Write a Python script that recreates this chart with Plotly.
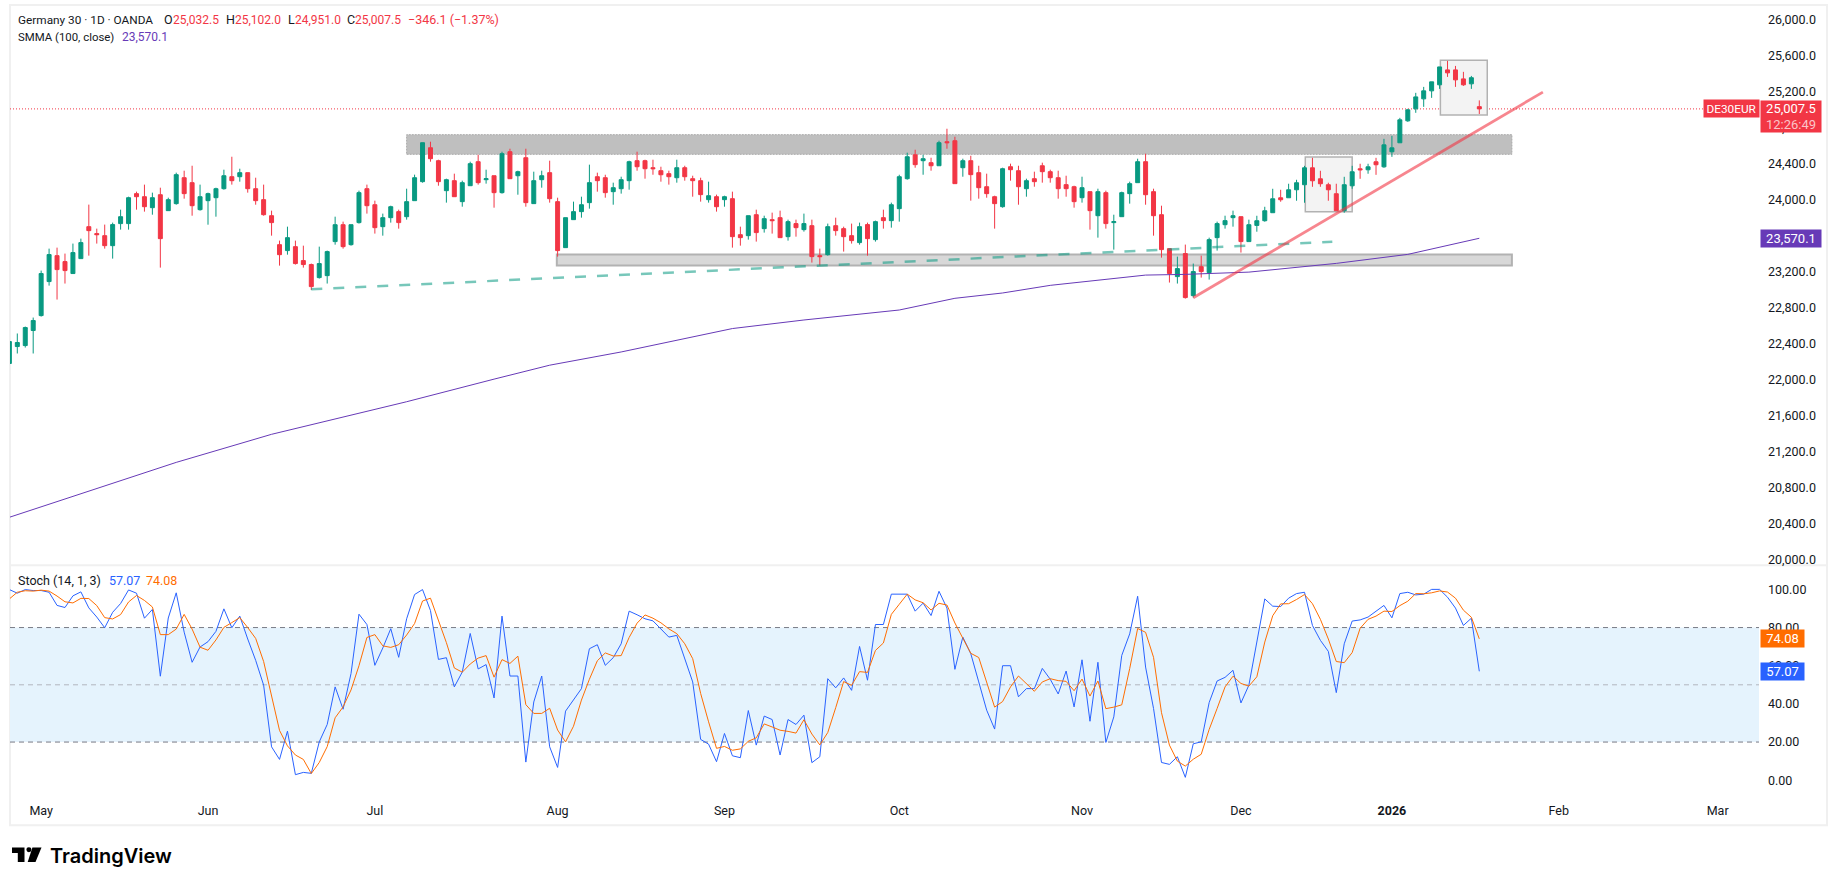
import plotly.graph_objects as go

W, H = 1835, 887

# candles, one per trading day
opens = [
    22179, 22367, 22378, 22545, 22711, 23089, 23377, 23311, 23178, 23344,
    23699, 23622, 23599, 23488, 23733, 23733, 24066, 24032, 23910, 24054,
    23877, 23955, 24243, 24188, 23888, 23988, 24021, 24121, 24254, 24254,
    24299, 24121, 23999, 23821, 23499, 23433, 23477, 23322, 23278, 23133,
    23155, 23533, 23721, 23499, 23744, 24121, 23943, 23699, 23799, 23866,
    23810, 23988, 24199, 24576, 24432, 24099, 24210, 23977, 24154, 24421,
    24221, 24265, 24077, 24532, 24265, 24465, 23955, 24221, 24299, 23977,
    23466, 23777, 23866, 23966, 24254, 24243, 24088, 24121, 24210, 24432,
    24432, 24354, 24321, 24288, 24243, 24354, 24232, 24210, 23999, 24032,
    23999, 24010, 23610, 23599, 23832, 23677, 23777, 23799, 23588, 23733,
    23666, 23710, 23377, 23388, 23710, 23677, 23599, 23522, 23722, 23555,
    23799, 23766, 23899, 24232, 24498, 24432, 24410, 24376, 24643, 24654,
    24354, 24432, 24299, 24143, 24032, 23921, 24365, 24321, 24121, 24232,
    24376, 24310, 24243, 24166, 24143, 24021, 24088, 23821, 24077, 23744,
    23810, 24066, 24188, 24421, 24088, 23832, 23455, 23144, 23400, 22933,
    23255, 23189, 23577, 23721, 23799, 23810, 23533, 23713, 23765, 23854,
    24020, 24020, 24109, 24165, 24353, 24231, 24165, 24065, 23876, 24153,
    24342, 24331, 24420, 24364, 24531, 24631, 24875, 25008, 25119, 25208,
    25275, 25441, 25441, 25341, 25286, 25032.5,
]
highs = [
    22423, 22512, 22589, 22689, 23211, 23455, 23466, 23400, 23511, 23566,
    23944, 23677, 23722, 23744, 23888, 24032, 24088, 24166, 24077, 24132,
    24021, 24299, 24321, 24376, 24166, 24077, 24132, 24332, 24476, 24343,
    24299, 24243, 24166, 23877, 23544, 23699, 23544, 23488, 23289, 23477,
    23433, 23810, 23755, 23721, 24099, 24166, 23988, 23844, 23932, 23888,
    24121, 24277, 24632, 24643, 24443, 24232, 24288, 24210, 24421, 24498,
    24332, 24265, 24532, 24565, 24321, 24565, 24310, 24321, 24432, 24021,
    23799, 23977, 24032, 24388, 24299, 24276, 24188, 24254, 24432, 24532,
    24443, 24443, 24365, 24321, 24443, 24376, 24265, 24243, 24199, 24055,
    24043, 24088, 23699, 23821, 23888, 23821, 23855, 23877, 23777, 23777,
    23844, 23777, 23455, 23733, 23799, 23699, 23733, 23744, 23744, 23766,
    23888, 23966, 24276, 24521, 24554, 24498, 24465, 24654, 24787, 24698,
    24454, 24487, 24376, 24288, 24043, 24354, 24399, 24376, 24232, 24310,
    24410, 24332, 24321, 24265, 24154, 24254, 24088, 24121, 24099, 23832,
    24088, 24199, 24454, 24510, 24121, 23932, 23455, 23366, 23500, 23289,
    23377, 23577, 23755, 23821, 23877, 23810, 23777, 23820, 23920, 24120,
    24109, 24176, 24220, 24375, 24464, 24320, 24187, 24176, 24253, 24375,
    24398, 24398, 24464, 24675, 24708, 24908, 25008, 25186, 25252, 25308,
    25474, 25541, 25485, 25419, 25374, 25102,
]
lows = [
    22179, 22290, 22356, 22290, 22700, 23044, 22889, 23067, 23178, 23344,
    23377, 23511, 23455, 23344, 23666, 23666, 23888, 23866, 23832, 23244,
    23877, 23943, 24010, 23821, 23877, 23721, 23810, 24110, 24166, 24199,
    24077, 23943, 23821, 23599, 23266, 23388, 23278, 23244, 22996, 23122,
    23067, 23499, 23455, 23488, 23733, 23844, 23622, 23599, 23744, 23677,
    23777, 23988, 24188, 24421, 24154, 23966, 24032, 23921, 24154, 24166,
    24177, 23910, 24066, 24232, 24054, 23921, 23955, 24132, 23966, 23366,
    23466, 23777, 23799, 23899, 24088, 24021, 23943, 24066, 24110, 24321,
    24232, 24276, 24199, 24166, 24188, 24210, 24032, 23977, 23966, 23866,
    23921, 23466, 23488, 23555, 23533, 23633, 23622, 23577, 23544, 23588,
    23644, 23300, 23266, 23377, 23599, 23422, 23511, 23499, 23377, 23533,
    23677, 23688, 23755, 24221, 24354, 24276, 24321, 24376, 24565, 24177,
    24254, 23988, 24010, 24021, 23677, 23910, 24210, 23943, 24032, 24143,
    24188, 24188, 24010, 24032, 23910, 23966, 23666, 23577, 23677, 23444,
    23810, 23955, 24188, 23943, 23599, 23355, 23078, 23067, 22900, 22911,
    23133, 23111, 23433, 23677, 23699, 23411, 23533, 23643, 23754, 23854,
    23976, 24020, 23987, 23965, 24142, 24142, 23987, 23876, 23854, 24120,
    24231, 24287, 24275, 24353, 24475, 24631, 24864, 24964, 25030, 25130,
    25230, 25363, 25252, 25263, 25230, 24951,
]
closes = [
    22423, 22412, 22578, 22656, 23178, 23389, 23222, 23211, 23411, 23522,
    23655, 23610, 23488, 23722, 23810, 24021, 24032, 23921, 24021, 23566,
    23999, 24277, 24066, 23932, 24032, 24066, 24121, 24265, 24210, 24299,
    24121, 23988, 23832, 23744, 23388, 23577, 23289, 23278, 23033, 23289,
    23422, 23721, 23477, 23721, 24077, 23932, 23688, 23799, 23921, 23744,
    23977, 24243, 24632, 24454, 24199, 24221, 24032, 24188, 24399, 24188,
    24232, 24077, 24510, 24232, 24310, 23966, 24210, 24265, 24010, 23433,
    23799, 23866, 23943, 24188, 24210, 24077, 24132, 24221, 24421, 24365,
    24343, 24343, 24276, 24254, 24354, 24254, 24210, 24055, 24043, 23921,
    24032, 23588, 23577, 23821, 23633, 23788, 23766, 23577, 23755, 23688,
    23733, 23366, 23366, 23699, 23655, 23588, 23544, 23699, 23566, 23755,
    23766, 23943, 24254, 24476, 24388, 24454, 24376, 24632, 24632, 24177,
    24432, 24277, 24132, 24066, 23955, 24343, 24332, 24143, 24210, 24199,
    24310, 24243, 24121, 24121, 23977, 24132, 23877, 24088, 23733, 23755,
    24077, 24177, 24421, 24054, 23821, 23444, 23178, 23233, 22911, 23200,
    23200, 23555, 23733, 23766, 23821, 23533, 23721, 23765, 23876, 24009,
    23998, 24109, 24187, 24353, 24209, 24176, 24109, 23876, 24165, 24309,
    24331, 24364, 24387, 24608, 24575, 24886, 24997, 25141, 25208, 25308,
    25474, 25408, 25330, 25275, 25354, 25007.5,
]

# smoothed moving average, read at a handful of days
smma_days = [0, 10, 21, 33, 50, 61, 68, 77, 91, 100, 112, 119, 125, 131, 137, 143, 148, 156, 167, 176, 185]
smma_vals = [20470, 20760, 21080, 21392, 21754, 22005, 22160, 22307, 22567, 22662, 22773, 22903,
             22962, 23047, 23106, 23161, 23169, 23194, 23291, 23391, 23570.1]

stoch_k = [
    99.9, 98, 99.9, 99.4, 99.4, 98.5, 91.6, 90.5, 96.6, 98.7,
    90.3, 85.5, 79.9, 88, 92.6, 99.7, 98, 84.9, 89.5, 54.5,
    85, 98.2, 77.6, 61.8, 69.8, 72.6, 78, 89.8, 79.9, 86,
    74, 62.8, 49.8, 17.5, 10.9, 25.7, 2.9, 4.1, 3.6, 20.1,
    29.2, 48.9, 37.2, 55.9, 87, 81.6, 60.2, 69.3, 79.4, 64.4,
    84.6, 97.3, 99.9, 88.9, 63.3, 64.2, 48.9, 56.7, 76.9, 58.3,
    60.6, 43.1, 86, 54.6, 54.6, 9.5, 41, 54.6, 17.5, 6.7,
    36.2, 41.9, 48, 68.9, 71, 60.2, 64.2, 71.5, 88.6, 86.7,
    84.6, 83.5, 79.4, 75, 75.9, 63.7, 51.5, 21.4, 18.9, 9.7,
    24.5, 12.8, 11.8, 36.5, 18.4, 33.6, 31.8, 13.2, 31.8, 29.2,
    34.1, 9.2, 12.3, 53.2, 48.4, 53.6, 47.1, 70.1, 52.4, 81.6,
    81.6, 97.5, 97.5, 97.5, 88.6, 92.8, 86.3, 99, 90.2, 58.1,
    75, 66.3, 51.5, 36.7, 26.8, 60, 60, 43.7, 48, 48,
    58.6, 52.9, 45.2, 57.2, 38.4, 63.1, 30.9, 61.8, 19.8, 33.2,
    65.4, 76.7, 96.4, 59.3, 37.6, 9.3, 8.3, 12.3, 1.5, 19.1,
    20.1, 40.7, 52, 53.9, 57.6, 40.5, 49.8, 72.4, 95, 91.2,
    91, 95.4, 97.8, 98.5, 81.1, 73.3, 67.5, 45.9, 71.5, 83.4,
    84, 85.5, 88.6, 91.6, 85.1, 97.8, 98.5, 97.1, 97.5, 100,
    100, 95.9, 90.2, 81.1, 84.9, 57.07,
]
stoch_d = [
    95, 98.5, 99.3, 99.1, 99.6, 99.1, 96.5, 93.5, 92.9, 95.3,
    95.2, 91.5, 85.2, 84.5, 86.8, 93.4, 96.8, 94.2, 90.8, 76.3,
    76.3, 79.2, 86.9, 79.2, 69.7, 68.1, 73.5, 80.1, 82.6, 85.2,
    80, 74.3, 62.2, 43.4, 26.1, 18, 13.2, 10.9, 3.5, 9.3,
    17.6, 32.7, 38.4, 47.3, 60, 74.8, 76.3, 70.4, 69.6, 71,
    76.1, 82.1, 93.9, 95.4, 84, 72.1, 58.8, 56.6, 60.9, 64,
    65.3, 54, 63.2, 61.2, 65, 39.6, 35, 35, 37.7, 26.3,
    20.1, 28.3, 42, 52.9, 62.6, 66.7, 65.1, 65.3, 74.8, 82.3,
    86.6, 84.9, 82.5, 79.3, 76.8, 71.5, 63.7, 45.5, 30.6, 16.7,
    17.7, 15.7, 16.4, 20.4, 22.2, 29.5, 27.9, 26.2, 25.6, 24.7,
    31.7, 24.2, 18.5, 25, 38, 51.7, 49.7, 56.9, 56.5, 68,
    71.9, 86.9, 92.2, 97.5, 94.5, 93, 89.2, 92.7, 91.8, 82.4,
    74.4, 66.5, 64.3, 51.5, 38.3, 41.2, 48.9, 54.6, 50.6, 46.6,
    51.5, 53.2, 52.2, 51.8, 46.9, 53, 44.1, 52, 37.5, 38.3,
    39.5, 58.5, 79.5, 77.5, 64.4, 35.4, 18.4, 10, 7.4, 11,
    13.6, 26.6, 37.6, 48.9, 54.5, 50.7, 49.3, 54.2, 72.4, 86.2,
    92.4, 92.5, 94.7, 97.3, 92.5, 84.3, 74, 62.2, 61.6, 66.9,
    79.6, 84.3, 86, 88.6, 88.4, 91.5, 93.8, 97.8, 97.7, 98.2,
    99.2, 98.6, 95.4, 89.1, 85.4, 74.08,
]

price_ticks = [20000, 20400, 20800, 21200, 21600, 22000, 22400, 22800, 23200, 23600,
               24000, 24400, 24800, 25200, 25600, 26000]
stoch_ticks = [0, 20, 40, 60, 80, 100]
month_days = [4, 25, 46, 69, 90, 112, 135, 155, 174, 195, 215]
month_labels = ["May", "Jun", "Jul", "Aug", "Sep", "Oct", "Nov", "Dec", "<b>2026</b>", "Feb", "Mar"]

# drawings on the price pane: (first day, last day, low price, high price)
upper_zone = (50, 189.1, 24503, 24721)
lower_zone = (68.9, 189.1, 23268, 23390)
box_dec = (163.1, 169, 23864, 24474)
box_jan = (180.1, 186, 24939, 25549)
# (first day, first price, last day, last price)
green_line = (38, 23003, 166.5, 23531)
red_line = (149, 22910, 193, 25194)

RED = "#f23645"
GREEN = "#089981"
PURPLE = "#673ab7"
BLUE = "#2962ff"
ORANGE = "#ff6d00"
TEXT = "#131722"
FONT = "Roboto"


def px(x):
    return x / W


def py(y):
    return 1 - y / H


days = list(range(len(closes)))

candles = go.Candlestick(x=days, open=opens, high=highs, low=lows, close=closes,
                         increasing=dict(line=dict(color=GREEN, width=1), fillcolor=GREEN),
                         decreasing=dict(line=dict(color=RED, width=1), fillcolor=RED),
                         whiskerwidth=0, hoverinfo="skip")
smma = go.Scatter(x=smma_days, y=smma_vals, mode="lines", line=dict(color=PURPLE, width=1), hoverinfo="skip")
green_trace = go.Scatter(x=[green_line[0], green_line[2]], y=[green_line[1], green_line[3]], mode="lines",
                         line=dict(color="rgba(8,153,129,0.55)", width=2.5, dash="11px,11px"), hoverinfo="skip")
red_trace = go.Scatter(x=[red_line[0], red_line[2]], y=[red_line[1], red_line[3]], mode="lines",
                       line=dict(color="rgba(242,54,69,0.6)", width=2.8), hoverinfo="skip")
k_trace = go.Scatter(x=days, y=stoch_k, mode="lines", line=dict(color=BLUE, width=1), xaxis="x2", yaxis="y2",
                     hoverinfo="skip")
d_trace = go.Scatter(x=days, y=stoch_d, mode="lines", line=dict(color=ORANGE, width=1), xaxis="x2", yaxis="y2",
                     hoverinfo="skip")

shapes = [
    # chart frame and pane divider
    dict(type="rect", xref="paper", yref="paper", x0=px(10), x1=px(1827), y0=py(827), y1=py(5),
         line=dict(color="#f0f0f0", width=2), layer="below"),
    dict(type="line", xref="paper", yref="paper", x0=px(10), x1=px(1827), y0=py(566.5), y1=py(566.5),
         line=dict(color="#f0f0f0", width=2), layer="below"),
    # zones and boxes
    dict(type="rect", x0=upper_zone[0], x1=upper_zone[1], y0=upper_zone[2], y1=upper_zone[3],
         fillcolor="#bfbfbf", line=dict(width=0), layer="below"),
    dict(type="rect", x0=upper_zone[0], x1=upper_zone[1], y0=upper_zone[2], y1=upper_zone[3],
         line=dict(color="#a8a8a8", width=1, dash="2px,1px"), layer="below"),
    dict(type="rect", x0=lower_zone[0], x1=lower_zone[1], y0=lower_zone[2], y1=lower_zone[3],
         fillcolor="#d8d8d8", line=dict(color="#b2b2b2", width=2), layer="below"),
    dict(type="rect", x0=box_dec[0], x1=box_dec[1], y0=box_dec[2], y1=box_dec[3],
         fillcolor="#f3f3f3", line=dict(color="#b2b2b2", width=1.5), layer="below"),
    dict(type="rect", x0=box_jan[0], x1=box_jan[1], y0=box_jan[2], y1=box_jan[3],
         fillcolor="#f3f3f3", line=dict(color="#b2b2b2", width=1.5), layer="below"),
    # last price line
    dict(type="line", xref="x domain", x0=0, x1=1, y0=closes[-1], y1=closes[-1],
         line=dict(color=RED, width=1, dash="1px,2px"), layer="below"),
    # stochastic band
    dict(type="rect", xref="x2 domain", yref="y2", x0=0, x1=1, y0=20, y1=80,
         fillcolor="#e5f3fd", line=dict(width=0), layer="below"),
    dict(type="line", xref="x2 domain", yref="y2", x0=0, x1=1, y0=80, y1=80,
         line=dict(color="#787b86", width=1, dash="5px,4px"), layer="below"),
    dict(type="line", xref="x2 domain", yref="y2", x0=0, x1=1, y0=50, y1=50,
         line=dict(color="#b2b5be", width=1, dash="5px,4px"), layer="below"),
    dict(type="line", xref="x2 domain", yref="y2", x0=0, x1=1, y0=20, y1=20,
         line=dict(color="#787b86", width=1, dash="5px,4px"), layer="below"),
    # TradingView mark
    dict(type="path", xref="paper", yref="paper", fillcolor="#000000", line=dict(width=0),
         path=f"M{px(12)},{py(849.3)} L{px(24.5)},{py(849.3)} L{px(24.5)},{py(864)} L{px(17.8)},{py(864)} "
              f"L{px(17.8)},{py(855)} L{px(12)},{py(855)} Z"),
    dict(type="circle", xref="paper", yref="paper", x0=px(26.4), x1=px(31.4), y0=py(854.2), y1=py(849.2),
         fillcolor="#000000", line=dict(width=0)),
    dict(type="path", xref="paper", yref="paper", fillcolor="#000000", line=dict(width=0),
         path=f"M{px(32.4)},{py(849.3)} L{px(41.5)},{py(849.3)} L{px(35.5)},{py(864)} L{px(27.7)},{py(864)} Z"),
]


def legend_note(text, x, y, color=TEXT, size=12.5):
    return dict(xref="paper", yref="paper", x=px(x), y=py(y), xanchor="left", yanchor="middle", showarrow=False,
                align="left", text=text, borderpad=0, font=dict(family=FONT, size=size, color=color))


def tag(text, y, yref, color, left, width, height, yshift=0, size=13):
    return dict(xref="paper", yref=yref, x=px(left), y=y, xanchor="left", yanchor="middle", showarrow=False,
                text=text, bgcolor=color, width=width, height=height, yshift=yshift, align="center",
                borderpad=0, font=dict(family=FONT, size=size, color="#ffffff"))


annotations = [
    legend_note("Germany 30 · 1D · OANDA", 17, 20, size=11.8),
    legend_note("O", 163, 20), legend_note("25,032.5", 172, 20, RED, 12),
    legend_note("H", 225, 20), legend_note("25,102.0", 234, 20, RED, 12),
    legend_note("L", 287, 20), legend_note("24,951.0", 294, 20, RED, 12),
    legend_note("C", 346, 20), legend_note("25,007.5", 354, 20, RED, 12),
    legend_note("−346.1 (−1.37%)", 407, 20, RED, 12.5),
    legend_note("SMMA (100, close)", 17, 37, size=11.4), legend_note("23,570.1", 121, 37, PURPLE, 12),
    legend_note("Stoch (14, 1, 3)", 17, 582), legend_note("57.07", 108, 582, BLUE),
    legend_note("74.08", 144.5, 582, ORANGE),
    tag("DE30EUR", closes[-1], "y", RED, 1703, 55, 17, size=11.8),
    tag(f"{closes[-1]:,.1f}<br><span style='color:#fbc4c8'>12:26:49</span>", closes[-1], "y", RED, 1760, 60, 31,
        yshift=-8),
    tag(f"{smma_vals[-1]:,.1f}", smma_vals[-1], "y", PURPLE, 1760, 60, 17),
    tag(f"{stoch_d[-1]:.2f}", stoch_d[-1], "y2", ORANGE, 1760, 43, 17),
    tag(f"{stoch_k[-1]:.2f}", stoch_k[-1], "y2", BLUE, 1760, 43, 17),
    dict(xref="paper", yref="paper", x=px(48), y=py(857.5), xanchor="left", yanchor="middle", showarrow=False,
         text="TradingView", font=dict(family="Inter", size=20, color="#000000", weight=600)),
]

x_range = [0.08, 220.2]
layout = go.Layout(
    width=W, height=H, margin=dict(l=0, r=0, t=0, b=0), showlegend=False,
    paper_bgcolor="#ffffff", plot_bgcolor="rgba(0,0,0,0)", boxgap=0.5, boxgroupgap=0,
    font=dict(family=FONT, size=12.5, color=TEXT),
    xaxis=dict(domain=[px(10), px(1759)], range=x_range, anchor="y", showticklabels=False, showgrid=False,
               zeroline=False, showline=False, ticks="", rangeslider=dict(visible=False)),
    xaxis2=dict(domain=[px(10), px(1759)], range=x_range, anchor="y2", matches="x", showgrid=False, zeroline=False,
                showline=False, ticks="", tickmode="array", tickvals=month_days, ticktext=month_labels,
                ticklabelstandoff=4),
    yaxis=dict(domain=[py(566), py(5)], range=[19943, 26162], anchor="x", side="right", showgrid=False,
               zeroline=False, showline=False, ticks="", tickmode="array", tickvals=price_ticks,
               tickformat=",.1f", ticklabelstandoff=8),
    yaxis2=dict(domain=[py(799), py(567)], range=[-8.9, 112.4], anchor="x2", side="right", showgrid=False,
                zeroline=False, showline=False, ticks="", tickmode="array", tickvals=stoch_ticks,
                tickformat=".2f", ticklabelstandoff=8),
    shapes=shapes, annotations=annotations,
)

fig = go.Figure(data=[candles, smma, green_trace, red_trace, k_trace, d_trace], layout=layout)
fig.write_html("out.html", config=dict(displayModeBar=False), post_script="document.body.style.margin='0';")
